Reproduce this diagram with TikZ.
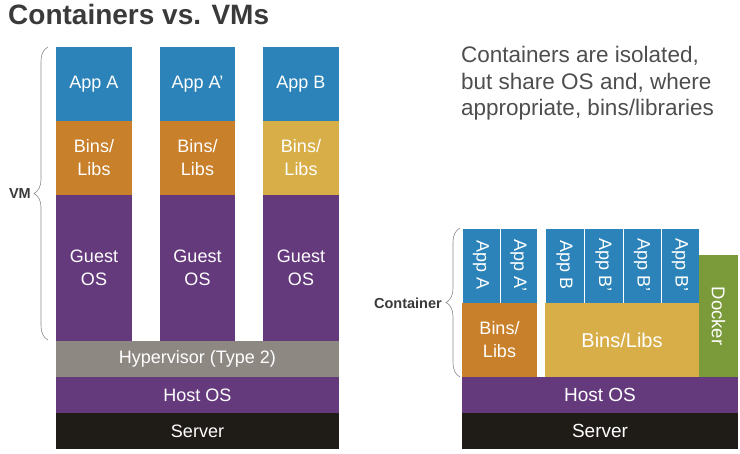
\documentclass[tikz,border=0pt]{standalone}
\usepackage{fontspec}
\setmainfont{Liberation Sans}
\usepackage{tikz}
\usetikzlibrary{positioning,decorations.pathreplacing}
\usepackage{xcolor}

\definecolor{appblue}{HTML}{2B83B9}
\definecolor{binorange}{HTML}{C8802A}
\definecolor{binyellow}{HTML}{D8AE48}
\definecolor{ospurple}{HTML}{653A7D}
\definecolor{hypgray}{HTML}{8E8883}
\definecolor{srvblack}{HTML}{1F1B17}
\definecolor{dockgreen}{HTML}{7B9A3A}
\definecolor{titlegray}{HTML}{3A3A3A}
\definecolor{bracegray}{HTML}{8A8A8A}

\tikzset{
  layer/.style={inner sep=0pt, outer sep=0pt, text=white, align=center,
    font=\fontsize{18}{23}\selectfont},
  vtext/.style={text=white, rotate=-90, inner sep=0pt, font=\fontsize{18}{20}\selectfont},
  grpbrace/.style={draw=bracegray, line width=0.6pt, decorate,
    decoration={brace, amplitude=14pt}},
  bracelbl/.style={text=titlegray, inner sep=0pt, font=\fontsize{14.5}{16}\selectfont\bfseries}
}

% name, colour, x1, y1, x2, y2, text
\newcommand{\layer}[8][]{%
  \node[layer, fill=#3, minimum width={(#6)-(#4)}, minimum height={(#7)-(#5)}, #1]
    (#2) at ({((#4)+(#6))/2},{((#5)+(#7))/2}) {#8};}

\begin{document}
\begin{tikzpicture}[x=1pt, y=-1pt]
  \useasboundingbox (0,0) rectangle (740,454);

  % Title and note
  \node[anchor=base west, inner sep=0pt, text=titlegray,
        font=\fontsize{28}{30}\selectfont\bfseries] (title) at (8,25) {Containers vs. VMs};
  \node[anchor=north west, inner sep=0pt, align=left, text=titlegray!90,
        font=\fontsize{22.5}{26.5}\selectfont] (note) at (461,46)
        {Containers are isolated,\\but share OS and, where\\appropriate, bins/libraries};

  % Virtual machines
  \foreach \n/\xa/\xb/\app/\bc in {1/56/132/App A/binorange, 2/160/235/App A'/binorange, 3/263/339/App B/binyellow} {
    \layer{app\n}{appblue}{\xa}{47}{\xb}{121}{\app}
    \layer{bins\n}{\bc}{\xa}{121}{\xb}{195}{Bins/\\Libs}
    \layer{guest\n}{ospurple}{\xa}{195}{\xb}{341}{Guest\\OS}
  }
  \layer{hyp}{hypgray}{56}{341}{339}{377}{Hypervisor (Type 2)}
  \layer{vmhost}{ospurple}{56}{377}{339}{413}{Host OS}
  \layer{vmserver}{srvblack}{56}{413}{339}{449}{Server}

  \coordinate (vmtop) at (48,47);
  \coordinate (vmbot) at (48,340);
  \coordinate (vmmid) at (48,194);
  \draw[grpbrace] (vmbot) -- (vmtop);
  \node[bracelbl, left=17pt of vmmid] (vmlbl) {VM};

  % Containers
  \layer[draw=white, line width=0.6pt]{capa}{appblue}{462}{228}{500}{303}{}
  \layer[draw=white, line width=0.6pt]{capa2}{appblue}{500}{228}{537}{303}{}
  \layer[draw=white, line width=0.6pt]{capb}{appblue}{545}{228}{584}{303}{}
  \layer[draw=white, line width=0.6pt]{capb2}{appblue}{584}{228}{623}{303}{}
  \layer[draw=white, line width=0.6pt]{capb3}{appblue}{623}{228}{661}{303}{}
  \layer[draw=white, line width=0.6pt]{capb4}{appblue}{661}{228}{699}{303}{}
  \node[vtext] (capa-t) at (capa) {App A};
  \node[vtext] (capa2-t) at (capa2) {App A'};
  \node[vtext] (capb-t) at (capb) {App B};
  \node[vtext] (capb2-t) at (capb2) {App B'};
  \node[vtext] (capb3-t) at (capb3) {App B'};
  \node[vtext] (capb4-t) at (capb4) {App B'};

  \layer{cbinsa}{binorange}{462}{303}{537}{377}{Bins/\\Libs}
  \layer[font=\fontsize{20}{23}\selectfont]{cbinsb}{binyellow}{545}{303}{699}{377}{Bins/Libs}
  \layer{docker}{dockgreen}{699}{255}{738}{377}{}
  \node[vtext, font=\fontsize{18.5}{20}\selectfont] (docker-t) at (docker) {Docker};
  \layer[font=\fontsize{19}{23}\selectfont]{cthost}{ospurple}{462}{377}{738}{413}{Host OS}
  \layer[font=\fontsize{19}{23}\selectfont]{ctserver}{srvblack}{462}{413}{738}{449}{Server}

  \coordinate (cttop) at (460,228);
  \coordinate (ctbot) at (460,377);
  \coordinate (ctmid) at (460,303);
  \draw[grpbrace] (ctbot) -- (cttop);
  \node[bracelbl, left=18pt of ctmid] (ctlbl) {Container};
\end{tikzpicture}
\end{document}
